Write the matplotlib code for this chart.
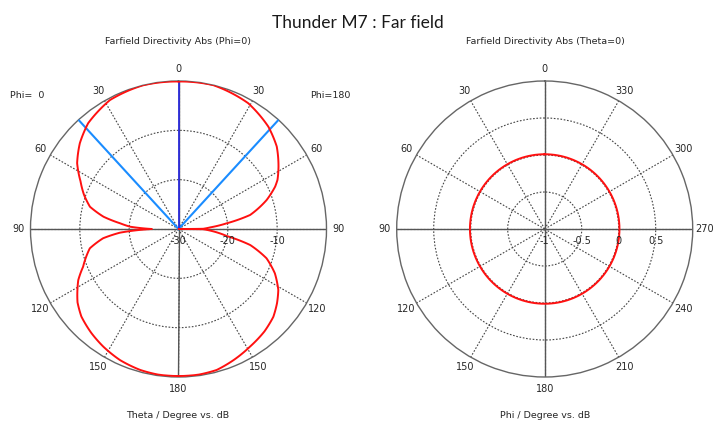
import numpy as np
import matplotlib
matplotlib.use("Agg")
import matplotlib.pyplot as plt
from matplotlib import transforms

# --- data ---
# Phi=0 cut : theta (deg) vs directivity (dB), left half of the left plot
theta_phi0 = [0, 14, 28, 40.5, 49, 57, 64, 70, 75.9, 80.7, 84.4, 87.3, 90,
              93.6, 97, 102.3, 111.6, 117, 121, 126, 132, 140, 147.4, 156, 164.7, 172, 180]
dir_phi0 = [-0.1, 0.0, -0.4, -1.8, -3.5, -5.5, -7.9, -9.6, -11.5, -14.6, -18.1, -20.2, -24.6,
            -18.1, -14.6, -11.6, -9.2, -7.2, -6.1, -4.7, -3.5, -2.5, -1.7, -0.9, -0.4, -0.2, -0.2]
# Phi=180 cut : right half of the left plot
theta_phi180 = [0, 13.6, 29, 41.3, 50, 58, 63.6, 66.3, 71.8, 78.9, 83.3, 87, 89.5, 90,
                90.5, 93, 98.3, 102.6, 108.4, 114.7, 121.4, 127, 132.8, 140, 148.7, 157, 164.8, 172, 180]
dir_phi180 = [-0.1, 0.0, -0.85, -2.4, -4.0, -6.1, -7.6, -8.6, -11.2, -15.2, -20.2, -23.5, -25.0, -40,
              -25.0, -23.5, -20.1, -15.1, -11.2, -8.5, -6.3, -5.0, -3.8, -2.9, -2.1, -1.2, -0.4, -0.2, -0.2]
# main lobe direction and 3 dB beamwidth markers
main_lobe_deg = 0
beam_edges_deg = [42.5, -42.5]

# Theta=0 cut : phi (deg) vs directivity (dB)
phi_deg = list(range(0, 361, 10))
dir_theta0 = [0.01] * len(phi_deg)

txt_col = "#262626"
grid_col = "#444444"
plt.rcParams['font.family'] = ['DejaVu Sans']

fig = plt.figure(figsize=(7.15, 4.24), dpi=100)
fig.text(0.5, 1 - 23 / 424, "Thunder M7 : Far field", ha="center", va="center",
         fontsize=12.5, family=["Lato", "DejaVu Sans"], color="#1a1a1a")


def smooth(line):
    # let the polar transform draw each segment as a curve
    line.get_path()._interpolation_steps = 60


def setup(ax, rmin, rmax, rticks, tlabels):
    ax.set_theta_zero_location("N")
    ax.set_theta_direction(1)
    ax.set_rlim(rmin, rmax)
    ax.set_rticks(rticks)
    ax.set_yticklabels([])
    ax.set_thetagrids(np.arange(0, 360, 30), tlabels, fontsize=7, color=txt_col)
    ax.tick_params(axis="x", pad=1.5, size=0)
    ax.grid(True, color=grid_col, linestyle=(0, (1.5, 1.5)), linewidth=0.8)
    ax.spines["polar"].set_color("#666666")
    ax.spines["polar"].set_linewidth(1.0)
    for a in [0, 90, 180, 270]:
        ax.plot([np.deg2rad(a)] * 2, [rmin, rmax], color="#555555", lw=1.0, zorder=2)
    # radial labels under the horizontal axis, right side
    off = transforms.offset_copy(ax.transData, fig=fig, x=0, y=-5, units="points")
    for r in [rmin] + list(rticks):
        ax.text(np.deg2rad(270), r, f"{r:g}", ha="center", va="top", fontsize=7,
                color=txt_col, transform=off, zorder=5)


# ---------------- left plot ----------------
ax1 = fig.add_axes([30.5 / 715, 47 / 424, 296 / 715, 296 / 424], projection="polar")
labels1 = ["0", "30", "60", "90", "120", "150", "180", "150", "120", "90", "60", "30"]
setup(ax1, -30, 0, [-20, -10], labels1)

t0 = np.deg2rad(theta_phi0)
r0 = np.maximum(dir_phi0, -30)
t180 = -np.deg2rad(theta_phi180)
r180 = np.maximum(dir_phi180, -30)
for b in beam_edges_deg:
    ax1.plot([np.deg2rad(b)] * 2, [-30, 0], color="#1a8cff", lw=1.5, zorder=3)
ax1.plot([np.deg2rad(main_lobe_deg)] * 2, [-30, 0], color="#2b2bdd", lw=1.3, zorder=3)
l1, = ax1.plot(t0, r0, color="#ff1010", lw=1.4, zorder=4)
l2, = ax1.plot(t180, r180, color="#ff1010", lw=1.4, zorder=4)
smooth(l1)
smooth(l2)

fig.text(178 / 715, 1 - 42 / 424, "Farfield Directivity Abs (Phi=0)", ha="center", va="center",
         fontsize=6.8, color=txt_col)
fig.text(178 / 715, 1 - 415 / 424, "Theta / Degree vs. dB", ha="center", va="center",
         fontsize=6.8, color=txt_col)
fig.text(27 / 715, 1 - 96 / 424, "Phi=  0", ha="center", va="center", fontsize=6.8, color=txt_col)
fig.text(330 / 715, 1 - 96 / 424, "Phi=180", ha="center", va="center", fontsize=6.8, color=txt_col)

# ---------------- right plot ----------------
ax2 = fig.add_axes([396.7 / 715, 47 / 424, 296 / 715, 296 / 424], projection="polar")
labels2 = ["0", "30", "60", "90", "120", "150", "180", "210", "240", "270", "300", "330"]
setup(ax2, -1, 1, [-0.5, 0, 0.5], labels2)
l3, = ax2.plot(np.deg2rad(phi_deg), dir_theta0, color="#ff1010", lw=1.4, zorder=4)
smooth(l3)

fig.text(545 / 715, 1 - 42 / 424, "Farfield Directivity Abs (Theta=0)", ha="center", va="center",
         fontsize=6.8, color=txt_col)
fig.text(545 / 715, 1 - 415 / 424, "Phi / Degree vs. dB", ha="center", va="center",
         fontsize=6.8, color=txt_col)

fig.savefig("out.png", dpi=100, facecolor="white")
